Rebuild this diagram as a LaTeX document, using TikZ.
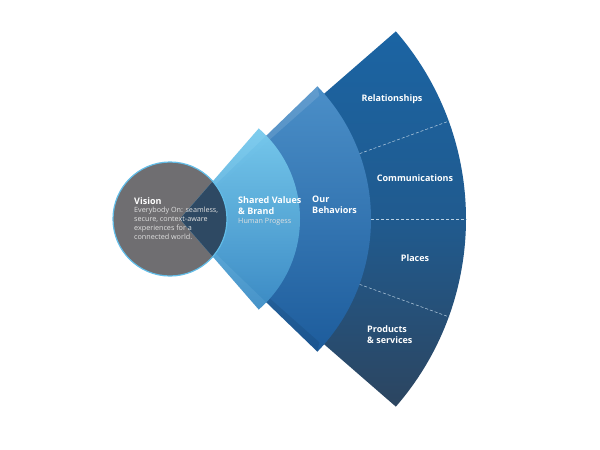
\documentclass[tikz,border=0pt]{standalone}
\usepackage{fontspec}
\setmainfont{Open Sans}
\usetikzlibrary{calc}
\definecolor{outT}{HTML}{1B64A3}
\definecolor{outB}{HTML}{2C4560}
\definecolor{behT}{HTML}{4B8FC8}
\definecolor{behB}{HTML}{1D5C9C}
\definecolor{shT}{HTML}{78CBEE}
\definecolor{shB}{HTML}{3D8DC6}
\definecolor{vis}{HTML}{6F6E71}
\definecolor{ring}{HTML}{62BDE8}
\definecolor{ovl}{HTML}{2E4963}
\begin{document}
\begin{tikzpicture}[x=1pt,y=-1pt,
  lab/.style={text=white,font=\bfseries\fontsize{9}{11}\selectfont,inner sep=0pt},
  sub/.style={text=white!88!black,font=\fontsize{7.2}{9}\selectfont,inner sep=0pt},
  divider/.style={white!70!outT,densely dashed,line width=0.5pt}]
\useasboundingbox (0,0) rectangle (600,450);
\fill[white] (0,0) rectangle (600,450);
\coordinate (A) at (180,219);
% outer wedge
\shade[top color=outT,bottom color=outB,middle color=outT!70!outB]
  (A) -- ++(-41:286) arc[start angle=-41,end angle=41,radius=286] -- cycle;
\foreach \a in {-20,0,20}
  \draw[divider] ($(A)+(\a:191)$) -- ($(A)+(\a:287)$);
% behaviors wedge
\shade[top color=behT,bottom color=behB]
  (A) -- ++(-44:191) arc[start angle=-44,end angle=44,radius=191] -- cycle;
\fill[white,opacity=0.12] (A) -- ++(-44:191) -- ($(A)+(-41.5:186)$) -- cycle;
\fill[black,opacity=0.08] (A) -- ++(44:191) -- ($(A)+(41.5:186)$) -- cycle;
% vision circle
\fill[vis] (170,219) circle[radius=57];
% shared values wedge
\shade[top color=shT,bottom color=shB,opacity=0.95]
  (A) -- ++(-49:120) arc[start angle=-49,end angle=49,radius=120] -- cycle;
\begin{scope}
\clip (170,219) circle[radius=57];
\fill[ovl] (A) -- ++(-49:120) arc[start angle=-49,end angle=49,radius=120] -- cycle;
\end{scope}
\draw[ring,line width=1.2pt] (170,219) circle[radius=57];
% texts
\node[lab,anchor=west] (v) at (134,201) {Vision};
\node[sub,anchor=north west,align=left] (vt) at (134,207) {Everybody On: seamless,\\secure, context-aware\\experiences for a\\connected world.};
\node[lab,anchor=north west,align=left] (s) at (238,196) {Shared Values\\\& Brand};
\node[sub,anchor=west] (hp) at (238,222) {Human Progess};
\node[lab,anchor=north west,align=left] (b) at (312,196) {Our\\Behaviors};
\node[lab] (r) at (392,99) {Relationships};
\node[lab] (c) at (415,178) {Communications};
\node[lab] (p) at (415,258) {Places};
\node[lab,anchor=north west,align=left] (ps) at (367,325) {Products\\\& services};
\end{tikzpicture}
\end{document}
